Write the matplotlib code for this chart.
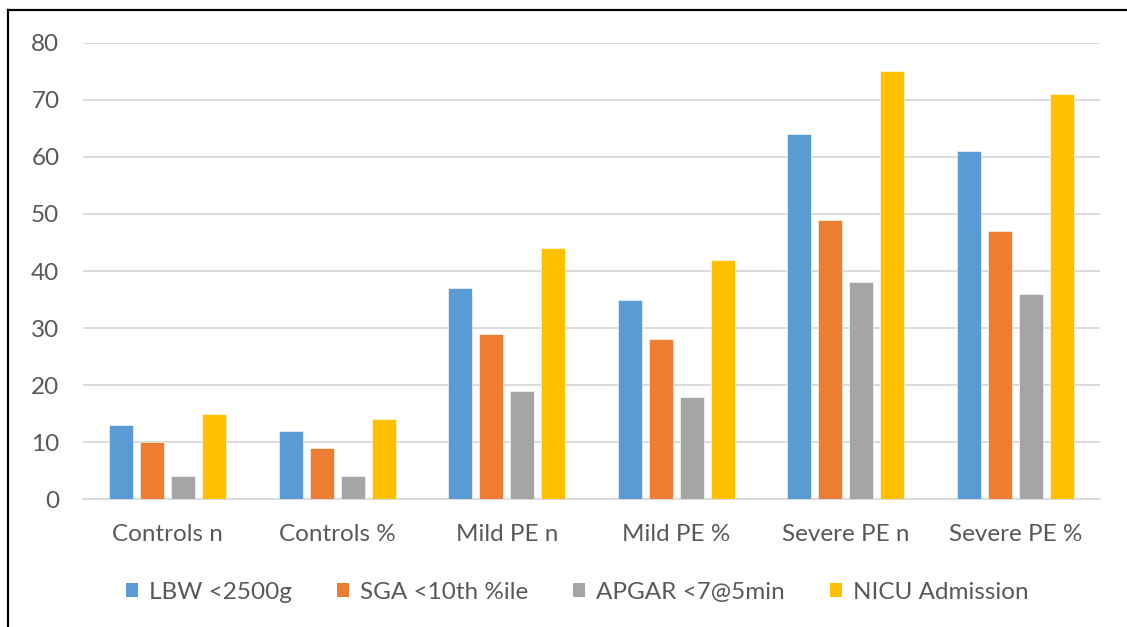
import matplotlib
matplotlib.use("Agg")
import matplotlib.pyplot as plt
import numpy as np
from matplotlib.patches import Patch
from matplotlib.lines import Line2D

categories = ["Controls n", "Controls %", "Mild PE n", "Mild PE %", "Severe PE n", "Severe PE %"]
series_names = ["LBW <2500g", "SGA <10th %ile", "APGAR <7@5min", "NICU Admission"]
lbw = [13, 12, 37, 35, 64, 61]
sga = [10, 9, 29, 28, 49, 47]
apgar = [4, 4, 19, 18, 38, 36]
nicu = [15, 14, 44, 42, 75, 71]
y_ticks = [0, 10, 20, 30, 40, 50, 60, 70, 80]

colors = ["#5B9BD5", "#ED7D31", "#A5A5A5", "#FFC000"]
text_color = "#595959"
grid_color = "#D9D9D9"

plt.rcParams['font.family'] = ['Lato', 'DejaVu Sans']

fig = plt.figure(figsize=(11.27, 6.27), dpi=100)
ax = fig.add_axes([83/1127, 1-499.3/627, (1100-83)/1127, (499.3-42.7)/627])

x = np.arange(len(categories))
width = 0.142
step = 0.183
all_series = [lbw, sga, apgar, nicu]
for i, (vals, name, c) in enumerate(zip(all_series, series_names, colors)):
    offs = (i - 1.5) * step
    ax.bar(x + offs, vals, width=width, color=c, label=name, zorder=3,
           edgecolor="white", linewidth=0.4)

ax.set_xlim(-0.5, len(categories) - 0.5)
ax.set_ylim(0, 80)
ax.set_yticks(y_ticks)
ax.set_yticklabels([str(t) for t in y_ticks])
ax.set_xticks(x)
ax.set_xticklabels(categories)
ax.yaxis.grid(True, color=grid_color, linewidth=1.3, zorder=0)
ax.set_axisbelow(True)
for s in ["top", "right", "left"]:
    ax.spines[s].set_visible(False)
ax.spines["bottom"].set_color(grid_color)
ax.spines["bottom"].set_linewidth(1.3)
ax.tick_params(axis="both", length=0, labelsize=17.5, colors=text_color)
ax.tick_params(axis="y", pad=17)
ax.tick_params(axis="x", pad=18)

handles = [Patch(facecolor=c, edgecolor="none") for c in colors]
fig.legend(handles, series_names, loc="center", bbox_to_anchor=(577/1127, 1-592.5/627),
           ncol=4, frameon=False, fontsize=17.5, labelcolor=text_color,
           handlelength=0.5, handleheight=0.5, handletextpad=0.45, columnspacing=1.85)

# partial border (left and top) as in reference
fig.add_artist(Line2D([7.5/1127, 7.5/1127], [0, 1-9.5/627], transform=fig.transFigure,
                      color="black", linewidth=1.6))
fig.add_artist(Line2D([7.5/1127, 1], [1-9.5/627, 1-9.5/627], transform=fig.transFigure,
                      color="black", linewidth=1.6))

fig.savefig("out.png", dpi=100)
